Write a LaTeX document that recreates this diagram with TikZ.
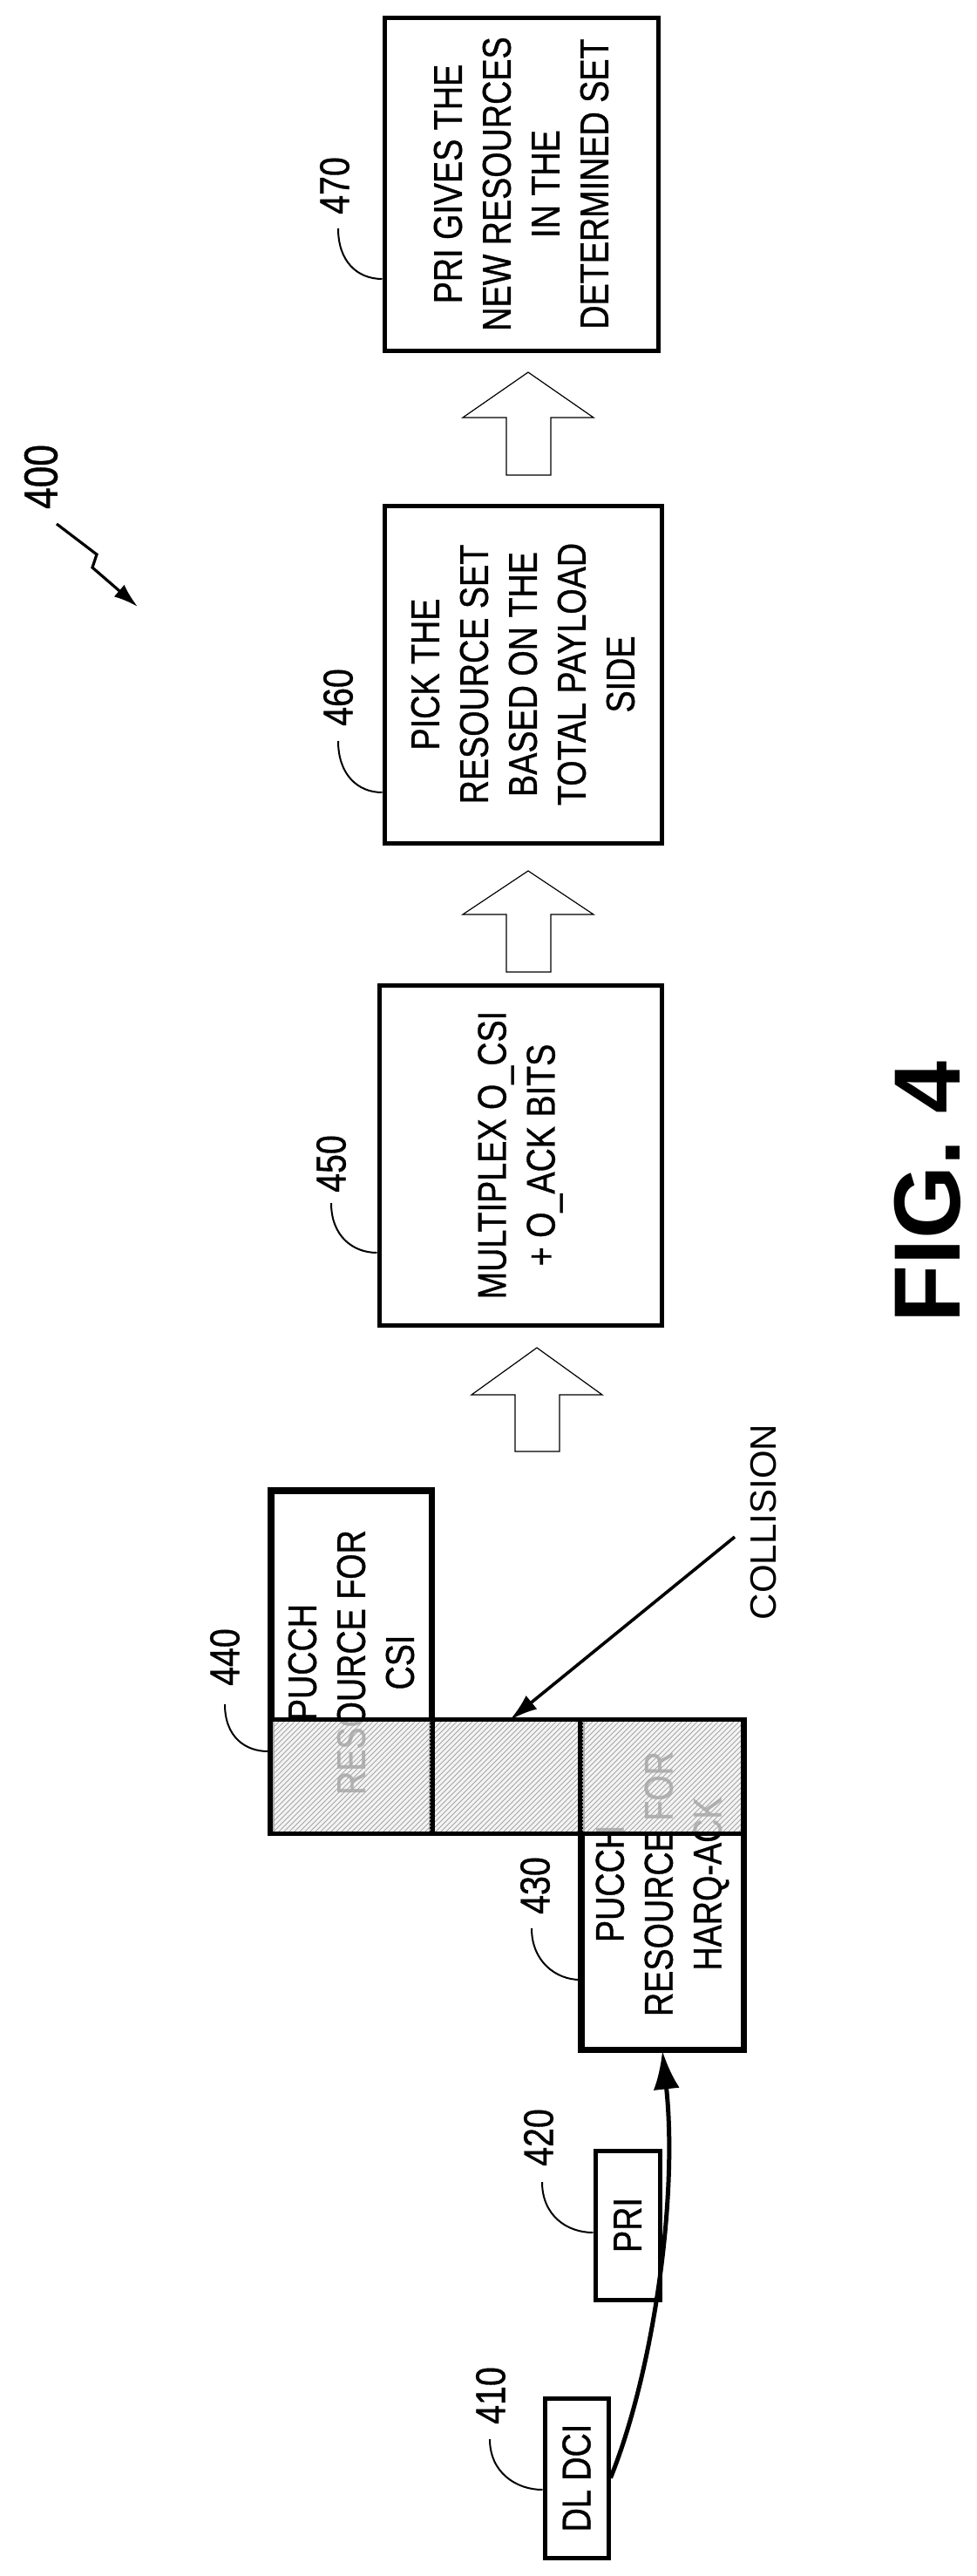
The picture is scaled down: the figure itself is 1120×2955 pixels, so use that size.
\documentclass[tikz,border=0pt]{standalone}
\usepackage{fontspec}
\setmainfont{Liberation Sans}
\newfontfamily\narrowfont[FakeStretch=0.82,FakeBold=0.8]{Liberation Sans}
\usetikzlibrary{arrows.meta,positioning,fit,patterns}
\tikzset{
boxstyle/.style= {draw,line width=2.5pt,inner sep=0pt,fit={#1}},
textstyle/.style= {rotate=90,align=center,font=\narrowfont\fontsize{23}{28}\selectfont},
numstyle/.style= {rotate=90,inner sep=2pt,font=\narrowfont\fontsize{24}{24}\selectfont},
leader/.style= {line width=1pt},
hollow/.style= {draw,line width=0.6pt,fill=white},
hatch/.style= {fill=gray!12,fill opacity=0.75}
}
\begin{document}
\begin{tikzpicture}[x=0.5pt,y=0.5pt,>=Latex]
\useasboundingbox (0,0) rectangle (1120,-2955);

% the steps on the right
\node[boxstyle={(441,-20) (755,-402)}] (b470) {};
\node[boxstyle={(441,-580) (759,-967)}] (b460) {};
\node[boxstyle={(435,-1130) (759,-1520)}] (b450) {};
\node[textstyle] at (b470.center) {PRI GIVES THE\\NEW RESOURCES\\IN THE\\DETERMINED SET};
\node[textstyle] at (b460.center) {PICK THE\\RESOURCE SET\\BASED ON THE\\TOTAL PAYLOAD\\SIDE};
\node[textstyle] at (b450.center) {MULTIPLEX O\_CSI\\+ O\_ACK BITS};

% the hollow arrows between them
\foreach \cx/\tip/\hb/\bot in {606/427/479/545, 606/999/1049/1115, 616/1546/1600/1665}
  \draw[hollow] (\cx,-\tip) -- (\cx+75,-\hb) -- (\cx+26,-\hb) -- (\cx+26,-\bot)
    -- (\cx-25,-\bot) -- (\cx-25,-\hb) -- (\cx-75,-\hb) -- cycle;

% the resources on the left
\node[boxstyle={(312,-1711) (494,-2103)}] (csi) {};
\node[boxstyle={(668,-1972) (852,-2350)}] (harq) {};
\node[boxstyle={(683,-2467) (757,-2638)}] (pri) {};
\node[boxstyle={(625,-2751) (698,-2934)}] (dci) {};
\node[textstyle] at (csi.center) {PUCCH\\RESOURCE FOR\\CSI};
\node[textstyle] at (harq.center) {PUCCH\\RESOURCE FOR\\HARQ-ACK};
\node[textstyle] at (pri.center) {PRI};
\node[textstyle] at (dci.center) {DL DCI};

% the collision part
\fill[hatch] (310,-1972) rectangle (852,-2103);
\fill[pattern=north east lines,pattern color=gray!70] (310,-1972) rectangle (852,-2103);
\node[boxstyle={(310,-1972) (852,-2103)}] (overlap) {};
\draw[densely dotted,line width=1pt] (494,-1972) -- (494,-2103);
\draw[densely dotted,line width=1pt] (668,-1972) -- (668,-2103);
\draw[line width=2.5pt] (csi.south west) -- (csi.north west) -- (csi.north east) -- (csi.south east);
\draw[line width=2.5pt] (harq.north east) -- (harq.south east) -- (harq.south west) -- (harq.north west);

\node[rotate=90,font=\fontsize{21}{21}\selectfont] (coll) at (876,-1746) {COLLISION};
\draw[->,line width=1.8pt,-{Latex[length=16pt,width=10pt]}] (843,-1763) -- (585,-1973);

\draw[line width=2.5pt,-{Latex[length=22pt,width=15pt]}] (dci.east) .. controls (750,-2720) and (778,-2520) .. (harq.south);

% the reference numbers and their lines
\node[numstyle] (l470) at (384,-213) {470};
\node[numstyle] (l460) at (388,-800) {460};
\node[numstyle] (l450) at (380,-1335) {450};
\node[numstyle] (l440) at (258,-1901) {440};
\node[numstyle] (l430) at (614,-2163) {430};
\node[numstyle] (l420) at (618,-2452) {420};
\node[numstyle] (l410) at (563,-2748) {410};
\draw[leader] (388,-262) .. controls (388,-300) and (410,-320) .. (b470.west |- 0,-320);
\draw[leader] (388,-850) .. controls (388,-888) and (410,-909) .. (b460.west |- 0,-909);
\draw[leader] (380,-1380) .. controls (380,-1418) and (405,-1437) .. (b450.west |- 0,-1437);
\draw[leader] (258,-1955) .. controls (258,-1993) and (282,-2009) .. (overlap.west |- 0,-2009);
\draw[leader] (610,-2212) .. controls (610,-2250) and (638,-2271) .. (harq.west |- 0,-2271);
\draw[leader] (622,-2503) .. controls (622,-2541) and (650,-2561) .. (pri.west |- 0,-2561);
\draw[leader] (562,-2798) .. controls (562,-2836) and (592,-2856) .. (dci.west |- 0,-2856);

\node[numstyle,font=\narrowfont\fontsize{27}{27}\selectfont] (l400) at (47,-547) {400};
\coordinate (z0) at (65,-601);
\draw[line width=1.6pt,-{Latex[length=14pt,width=9pt]}] (z0) -- (111,-636) -- (106,-651) -- (158,-696);

\node[rotate=90,font=\bfseries\fontsize{54}{54}\selectfont] (fig) at (1064,-1367) {FIG. 4};
\end{tikzpicture}
\end{document}
